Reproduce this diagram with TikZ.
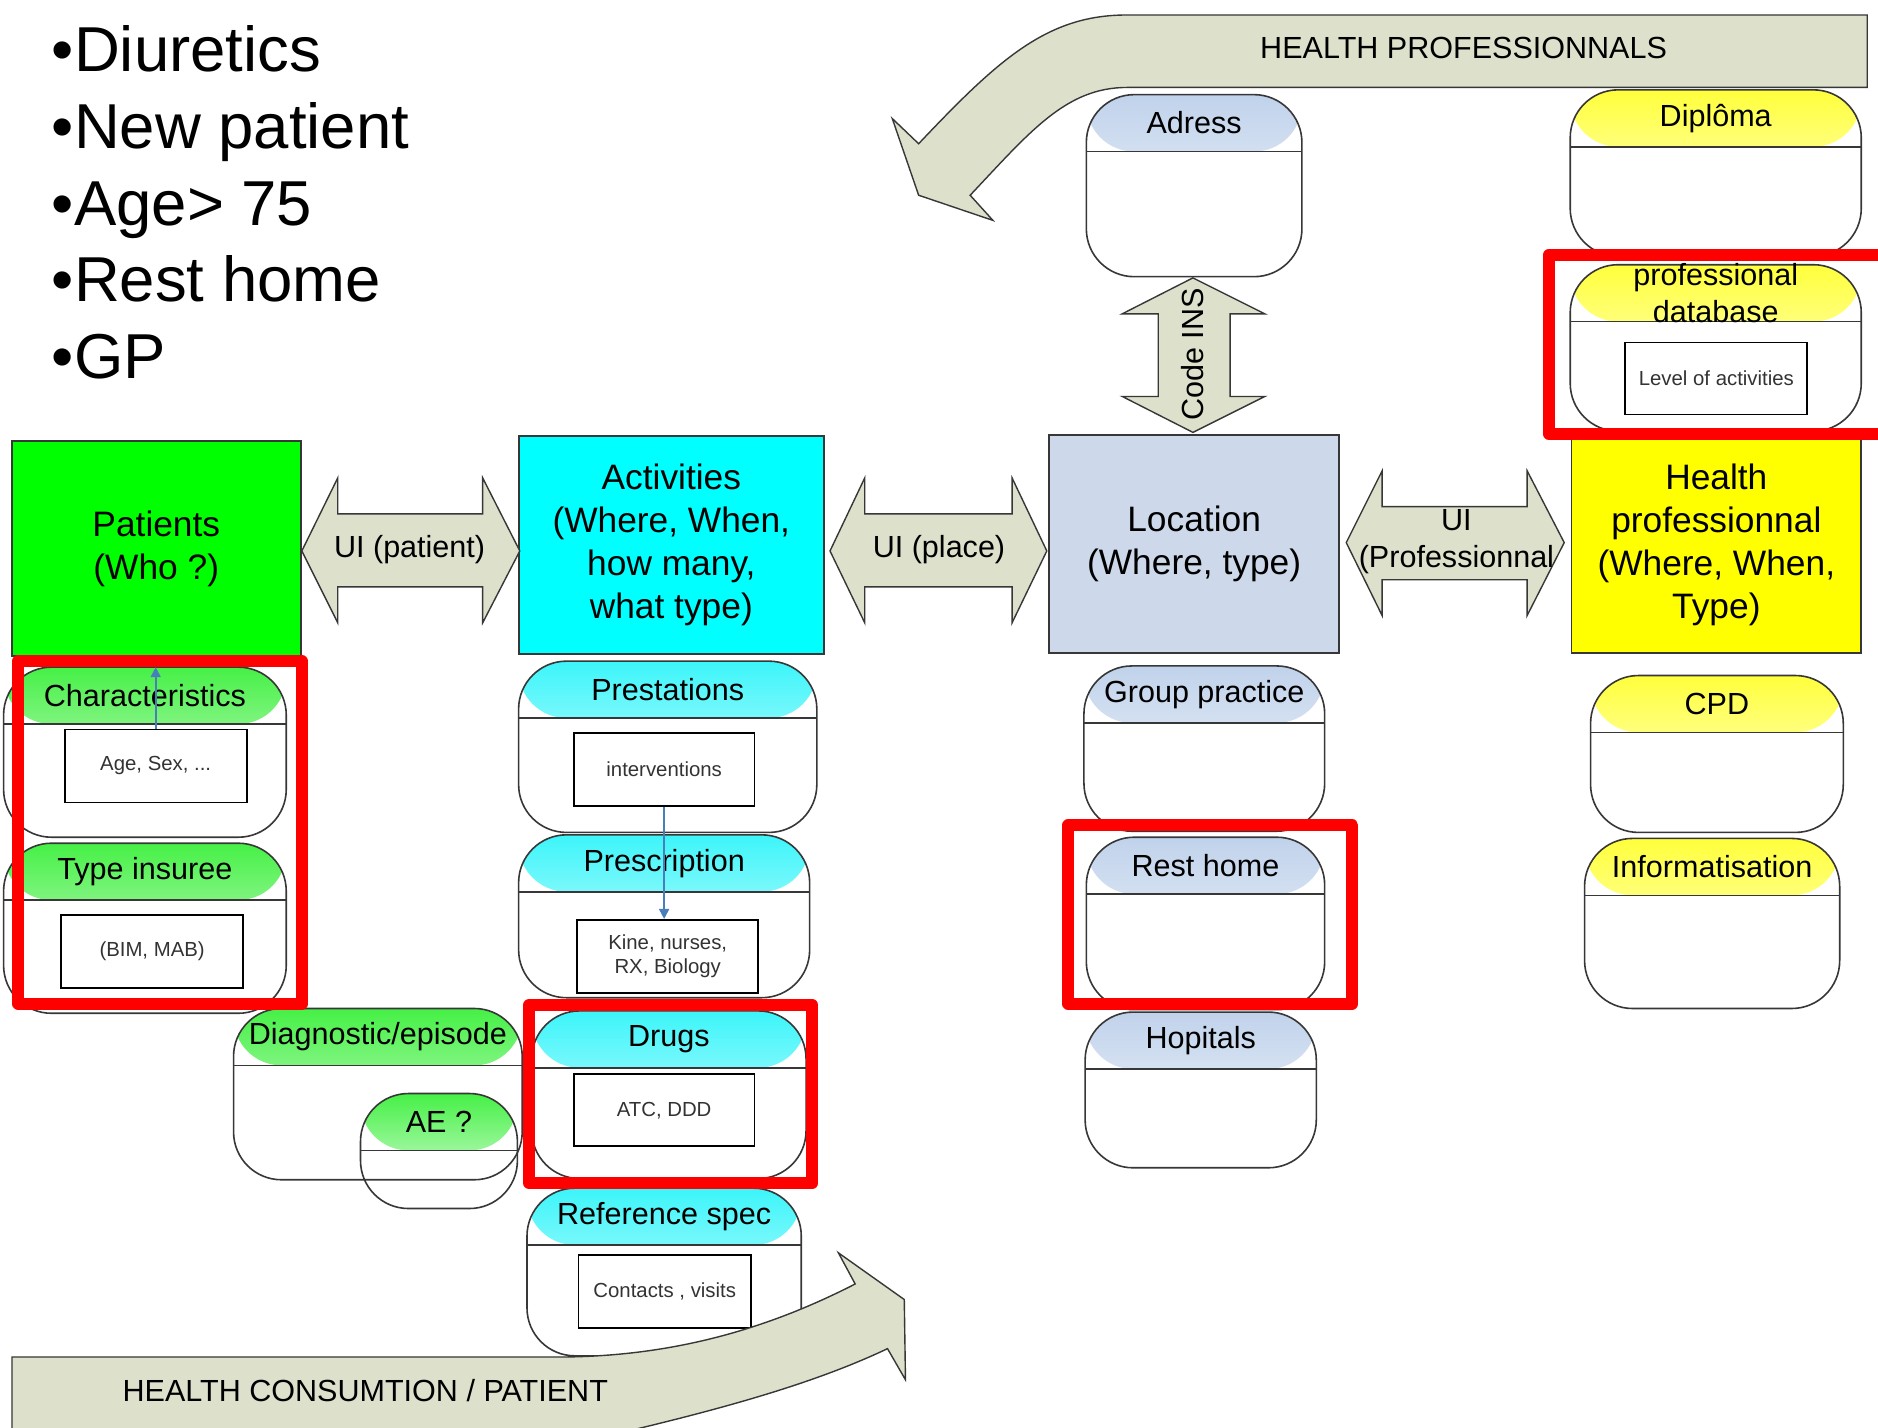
\documentclass[tikz,border=0pt]{standalone}
\usepackage{fontspec}
\setmainfont{Liberation Sans}
\usetikzlibrary{fit,arrows.meta}

\definecolor{khaki}{RGB}{221,224,203}
\definecolor{edge}{RGB}{55,55,55}
\definecolor{locblue}{RGB}{205,217,234}
\definecolor{boxgreen}{RGB}{0,255,0}
\definecolor{boxcyan}{RGB}{0,255,255}
\definecolor{boxyellow}{RGB}{255,255,0}
\definecolor{redline}{RGB}{255,0,0}
\definecolor{hgreen}{RGB}{70,240,70}
\definecolor{hcyan}{RGB}{60,245,250}
\definecolor{hblue}{RGB}{192,210,235}
\definecolor{hyellow}{RGB}{255,255,60}
\definecolor{arrowblue}{RGB}{74,126,187}

\newcommand\fbul{\fontsize{31.8pt}{38.4pt}\selectfont}
\newcommand\fbig{\fontsize{17.7pt}{21.6pt}\selectfont}
\newcommand\fmid{\fontsize{15.3pt}{18.6pt}\selectfont}
\newcommand\fsmall{\fontsize{10.2pt}{12pt}\selectfont}

\tikzset{
  edgeline/.style={draw=edge, line width=0.8pt},
  tab/.style={draw=edge, line width=0.8pt, rounded corners=24pt, inner sep=0pt, outer sep=0pt},
  inbox/.style={draw=black, line width=0.9pt, fill=white, inner sep=0pt},
  intext/.style={font=\fsmall, text=black!80, align=center, inner sep=0pt},
  bigbox/.style={draw=edge, line width=0.9pt, inner sep=0pt},
  bigtext/.style={font=\fbig, align=center, inner sep=0pt},
  khakiarrow/.style={draw=edge, line width=0.7pt, fill=khaki, line join=miter},
  redbox/.style={draw=redline, line width=6pt, inner sep=0pt, line join=round},
  bluearrow/.style={draw=arrowblue, line width=0.8pt, -{Triangle[length=5pt,width=5pt]}},
  label/.style={font=\fmid, inner sep=0pt, align=center},
  bullet/.style={font=\fbul, inner sep=0pt, anchor=base west},
}

% name, corner1, corner2, header colour, title, body fill
\newcommand\tabbox[6]{%
  \node[tab, fill=#6, fit={#2 #3},
    path picture={\shade[top color=#4, bottom color=#4!8!white]
      (path picture bounding box.north west) rectangle
      ([yshift=-28.5pt]path picture bounding box.north east);}] (#1) {};
  \draw[edgeline] ([yshift=-28.5pt]#1.north west) -- ([yshift=-28.5pt]#1.north east);
  \node[label] (#1-t) at ([yshift=-14.25pt]#1.north) {#5};
}
% name, corner1, corner2, text
\newcommand\innerbox[4]{%
  \node[inbox, fit={#2 #3}] (#1) {};
  \node[intext] (#1-t) at (#1.center) {#4};
}
% name, corner1, corner2, fill, text
\newcommand\mainbox[5]{%
  \node[bigbox, fill=#4, fit={#2 #3}] (#1) {};
  \node[bigtext] (#1-t) at (#1.center) {#5};
}

\begin{document}
\begin{tikzpicture}[x=0.6pt, y=-0.6pt]
\useasboundingbox (0,0) rectangle (1568,1192);
\fill[white] (0,0) rectangle (1568,1192);
\clip (0,0) rectangle (1568,1192);

% bullet list
\node[bullet] (b1) at (43,60) {•Diuretics};
\node[bullet] (b2) at (43,124) {•New patient};
\node[bullet] (b3) at (43,188) {•Age> 75};
\node[bullet] (b4) at (43,252) {•Rest home};
\node[bullet] (b5) at (43,316) {•GP};

% main boxes
\mainbox{patients}{(10,368)}{(251,548)}{boxgreen}{Patients\\(Who ?)}
\mainbox{activities}{(433,364)}{(688,546)}{boxcyan}{Activities\\(Where, When,\\how many,\\what type)}
\mainbox{location}{(876,363)}{(1118,545)}{locblue}{Location\\(Where, type)}
\mainbox{healthpro}{(1312,365)}{(1554,545)}{boxyellow}{Health\\professionnal\\(Where, When,\\Type)}

% tabs
\tabbox{adress}{(907,79)}{(1087,231)}{hblue}{Adress}{white}
\tabbox{diploma}{(1311,75)}{(1554,214)}{hyellow}{Diplôma}{white}
\tabbox{profdb}{(1311,221)}{(1554,360)}{hyellow}{professional\\database}{white}
\tabbox{char}{(3,557)}{(239,699)}{hgreen}{Characteristics}{white}
\tabbox{insur}{(3,704)}{(239,846)}{hgreen}{Type insuree}{white}
\tabbox{diag}{(195,842)}{(436,985)}{hgreen}{Diagnostic/episode}{none}
\tabbox{ae}{(301,913)}{(432,1009)}{hgreen}{AE ?}{none}
\tabbox{presta}{(433,552)}{(682,695)}{hcyan}{Prestations}{white}
\tabbox{presc}{(433,697)}{(676,833)}{hcyan}{Prescription}{white}
\tabbox{drugs}{(444,844)}{(673,984)}{hcyan}{Drugs}{white}
\tabbox{refspec}{(440,992)}{(669,1132)}{hcyan}{Reference spec}{white}
\tabbox{group}{(905,556)}{(1106,694)}{hblue}{Group practice}{white}
\tabbox{rest}{(907,699)}{(1106,843)}{hblue}{Rest home}{white}
\tabbox{hopit}{(906,845)}{(1099,975)}{hblue}{Hopitals}{white}
\tabbox{cpd}{(1328,564)}{(1539,695)}{hyellow}{CPD}{white}
\tabbox{inform}{(1323,700)}{(1536,842)}{hyellow}{Informatisation}{white}

% inner boxes
\innerbox{charin}{(54,609)}{(206,670)}{Age, Sex, ...}
\innerbox{insurin}{(51,764)}{(203,825)}{(BIM, MAB)}
\innerbox{prestain}{(479,612)}{(630,673)}{interventions}
\innerbox{prescin}{(482,768)}{(633,829)}{Kine, nurses,\\RX, Biology}
\innerbox{drugsin}{(479,897)}{(630,957)}{ATC, DDD}
\innerbox{refin}{(483,1048)}{(627,1109)}{Contacts , visits}
\innerbox{profdbin}{(1357,286)}{(1509,346)}{Level of activities}

% blue connectors
\draw[bluearrow] (charin.north) -- (charin.north |- char.north);
\draw[bluearrow] (prestain.south) -- (prestain.south |- prescin.north);

% double arrows
\draw[khakiarrow] (252,460) -- (282,399) -- (282,429) -- (403,429) -- (403,399) -- (434,460)
  -- (403,520) -- (403,490) -- (282,490) -- (282,520) -- cycle;
\node[label] (uipat) at (342,459) {UI (patient)};
\draw[khakiarrow] (693,460) -- (722,399) -- (722,429) -- (845,429) -- (845,399) -- (874,460)
  -- (845,520) -- (845,490) -- (722,490) -- (722,520) -- cycle;
\node[label] (uiplace) at (784,459) {UI (place)};
\draw[khakiarrow] (1124,453) -- (1154,393) -- (1154,423) -- (1275,423) -- (1275,393) -- (1306,453)
  -- (1275,514) -- (1275,484) -- (1154,484) -- (1154,514) -- cycle;
\node[label] (uiprof) at (1216,452) {UI\\(Professionnal};
\draw[khakiarrow] (996,232) -- (1056,262) -- (1027,262) -- (1027,331) -- (1056,331) -- (996,361)
  -- (937,331) -- (967,331) -- (967,262) -- (937,262) -- cycle;
\node[label, rotate=90] (codeins) at (996,296) {Code INS};

% bent arrows
\draw[khakiarrow] (1559,12.5) -- (941,12.5) .. controls (875,12.5) and (835,48) .. (767,120)
  -- (745,99) -- (767,163) -- (829,184) -- (810,163)
  .. controls (860,110) and (890,73) .. (941,73) -- (1559,73) -- cycle;
\node[label] (healthprof) at (1222,40) {HEALTH PROFESSIONNALS};
\draw[khakiarrow] (10,1205) -- (10,1133) -- (465,1133) .. controls (560,1133) and (640,1110) .. (714,1072)
  -- (700,1046) -- (755,1085) -- (756,1152) -- (741,1126)
  .. controls (680,1155) and (600,1178) .. (480,1205) -- cycle;
\node[label] (healthcons) at (305,1161) {HEALTH CONSUMTION / PATIENT};

% red highlight frames
\node[redbox, fit={(15.4,552) (252,838)}] (red1) {};
\node[redbox, fit={(442,839) (678,988)}] (red2) {};
\node[redbox, fit={(892,689) (1129,838)}] (red3) {};
\node[redbox, fit={(1293,213) (1600,362)}] (red4) {};
\end{tikzpicture}
\end{document}
